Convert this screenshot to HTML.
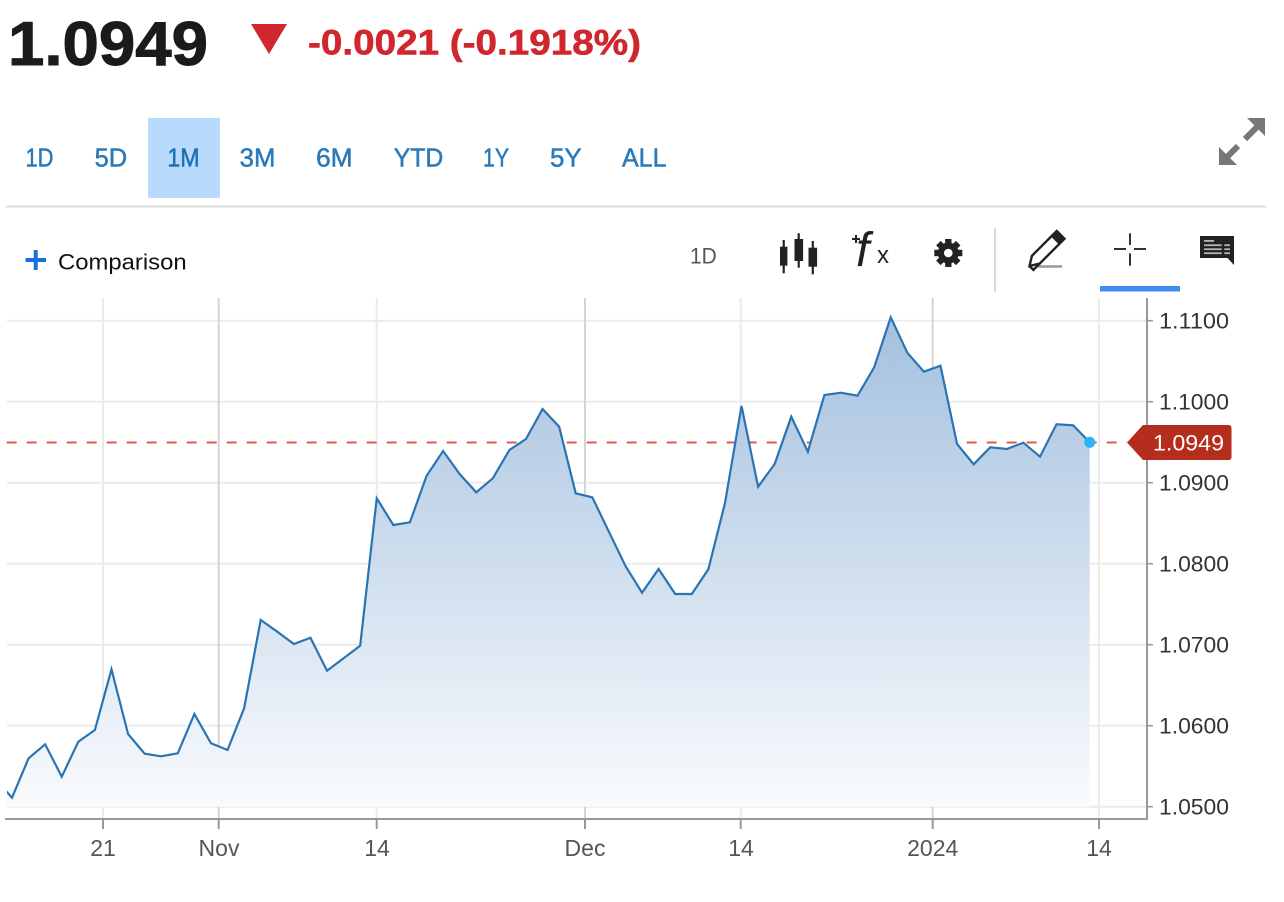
<!DOCTYPE html>
<html><head><meta charset="utf-8"><style>
html,body{margin:0;padding:0;background:#fff;}
svg{display:block;}
text{font-family:"Liberation Sans",Arial,sans-serif;}
</style></head><body>
<svg width="1284" height="902" viewBox="0 0 1284 902" xmlns="http://www.w3.org/2000/svg">
<defs>
<linearGradient id="ag" gradientUnits="userSpaceOnUse" x1="0" y1="317" x2="0" y2="807">
<stop offset="0" stop-color="#a4c0de"/>
<stop offset="1" stop-color="#f9fbfd"/>
</linearGradient>
<clipPath id="plot"><rect x="7" y="298" width="1140" height="521"/></clipPath>
<clipPath id="areaclip"><path id="areaP" d="M7,792.1 L12,797.7 L28.58,758.3 L45.16,744.3 L61.74,776.7 L78.32,741.7 L94.9,730 L111.48,669.3 L128.06,734 L144.64,753.7 L161.22,756.3 L177.8,753.3 L194.38,714 L210.96,743.3 L227.54,750 L244.12,708.3 L260.7,620 L277.28,631.7 L293.86,644 L310.44,637.7 L327.02,670.7 L343.6,658.3 L360.18,645.7 L376.76,498.3 L393.34,525 L409.92,522.3 L426.5,476 L443.08,451 L459.66,474 L476.24,492.3 L492.82,478.3 L509.4,450 L525.98,439 L542.56,409 L559.14,426.7 L575.72,493.3 L592.3,497.3 L608.88,531.7 L625.46,566 L642.04,592.7 L658.62,569 L675.2,594 L691.78,594 L708.36,569.3 L724.94,503.3 L741.52,406 L758.1,486.7 L774.68,464 L791.26,416.7 L807.84,451.7 L824.42,395 L841,392.7 L857.58,395.7 L874.16,367.3 L890.74,317.3 L907.32,352.7 L923.9,371.7 L940.48,365.7 L957.06,444 L973.64,464.3 L990.22,447.3 L1006.8,449 L1023.38,442.7 L1039.96,456.7 L1056.54,424.3 L1073.12,425.3 L1089.7,442.3 L1089.7,806.7 L7,806.7 Z"/></clipPath>
</defs>

<!-- Header -->
<text x="8" y="65" font-size="62" font-weight="bold" fill="#1b1b1b" stroke="#1b1b1b" stroke-width="1" textLength="200" lengthAdjust="spacingAndGlyphs">1.0949</text>
<polygon points="251,24 287,24 269,54" fill="#d0262d"/>
<text x="308" y="54.5" font-size="35" font-weight="bold" fill="#d0262d" stroke="#d0262d" stroke-width="0.6" textLength="333" lengthAdjust="spacingAndGlyphs">-0.0021 (-0.1918%)</text>

<!-- Range buttons -->
<rect x="148" y="118" width="72" height="80" fill="#b7dafd"/>
<g font-size="25.5" fill="#2a79b9" stroke="#2a79b9" stroke-width="0.5">
<text x="25.5" y="166.5" textLength="28" lengthAdjust="spacingAndGlyphs">1D</text>
<text x="94.6" y="166.5" textLength="32.6" lengthAdjust="spacingAndGlyphs">5D</text>
<text x="167.4" y="166.5" textLength="32.2" lengthAdjust="spacingAndGlyphs" fill="#1f70b0" stroke="#1f70b0">1M</text>
<text x="239.7" y="166.5" textLength="35.7" lengthAdjust="spacingAndGlyphs">3M</text>
<text x="316" y="166.5" textLength="36.7" lengthAdjust="spacingAndGlyphs">6M</text>
<text x="393.8" y="166.5" textLength="49.5" lengthAdjust="spacingAndGlyphs">YTD</text>
<text x="483" y="166.5" textLength="26" lengthAdjust="spacingAndGlyphs">1Y</text>
<text x="550" y="166.5" textLength="31.7" lengthAdjust="spacingAndGlyphs">5Y</text>
<text x="622" y="166.5" textLength="44.5" lengthAdjust="spacingAndGlyphs">ALL</text>
</g>

<!-- Expand icon -->
<g fill="#777">
<polygon points="1265,118 1265,136 1247,118"/>
<polygon points="1219,165 1219,147 1237,165"/>
</g>
<g stroke="#777" stroke-width="6" stroke-linecap="butt">
<line x1="1225" y1="159" x2="1238" y2="146"/>
<line x1="1245" y1="139" x2="1258" y2="126"/>
</g>

<line x1="6" y1="206.5" x2="1266" y2="206.5" stroke="#dcdcdc" stroke-width="2"/>

<!-- Comparison -->
<rect x="25.5" y="258" width="20.5" height="4" fill="#1a6fd6"/>
<rect x="33.7" y="250" width="4" height="20" fill="#1a6fd6"/>
<text x="58" y="269.5" font-size="22" fill="#111" textLength="128.6" lengthAdjust="spacingAndGlyphs">Comparison</text>

<!-- Toolbar -->
<text x="690" y="263.5" font-size="22" fill="#555" textLength="26.7" lengthAdjust="spacingAndGlyphs">1D</text>
<g fill="#222" stroke="#222">
<line x1="783.7" y1="240" x2="783.7" y2="273.3" stroke-width="2.2"/>
<rect x="780" y="246.7" width="7.4" height="19" stroke="none"/>
<line x1="798.7" y1="233.3" x2="798.7" y2="267.7" stroke-width="2.2"/>
<rect x="794.5" y="239" width="8.6" height="22" stroke="none"/>
<line x1="812.8" y1="241" x2="812.8" y2="274.3" stroke-width="2.2"/>
<rect x="808.5" y="247.7" width="8.6" height="19" stroke="none"/>
</g>
<g stroke="#222" stroke-width="2">
<line x1="852" y1="239" x2="860" y2="239"/>
<line x1="856" y1="235" x2="856" y2="243"/>
</g>
<text x="856" y="266" font-family="Liberation Serif, serif" font-style="italic" font-size="48" fill="#222">f</text>
<text x="877" y="263" font-size="24" fill="#222">x</text>
<!-- gear -->
<g transform="translate(948.3,253)" fill="#222">
<circle r="10.5"/>
<rect x="-3.2" y="-14" width="6.4" height="28"/>
<rect x="-3.2" y="-14" width="6.4" height="28" transform="rotate(45)"/>
<rect x="-3.2" y="-14" width="6.4" height="28" transform="rotate(90)"/>
<rect x="-3.2" y="-14" width="6.4" height="28" transform="rotate(135)"/>
<circle r="4.3" fill="#fff"/>
</g>
<line x1="995" y1="228" x2="995" y2="292" stroke="#d8d8d8" stroke-width="2"/>
<!-- pencil -->
<line x1="1038" y1="266.5" x2="1062" y2="266.5" stroke="#999" stroke-width="2.5"/>
<g transform="translate(1029.5,266) rotate(-45)">
<path d="M0,0 L9,-5.5 L44,-5.5 L44,5.5 L9,5.5 Z" fill="none" stroke="#222" stroke-width="2.4" stroke-linejoin="miter"/>
<rect x="36" y="-5.5" width="8" height="11" fill="#222"/>
<path d="M0,0 L0,5.5 L9,5.5" fill="none" stroke="#222" stroke-width="2.4"/>
</g>
<!-- crosshair -->
<g stroke="#333" stroke-width="2">
<line x1="1114" y1="249" x2="1126" y2="249"/>
<line x1="1134" y1="249" x2="1146" y2="249"/>
<line x1="1130" y1="233.3" x2="1130" y2="245"/>
<line x1="1130" y1="253.3" x2="1130" y2="265.7"/>
</g>
<rect x="1100" y="286" width="80" height="5.5" fill="#3d8ef0"/>
<!-- comments -->
<rect x="1200" y="236" width="34" height="22" fill="#222"/>
<polygon points="1227,257.5 1234,257.5 1234,265" fill="#222"/>
<g fill="#b5b5b5">
<rect x="1204" y="240" width="10" height="1.8"/>
<rect x="1204" y="244.3" width="17.7" height="1.8"/>
<rect x="1224.3" y="244.3" width="5.7" height="1.8"/>
<rect x="1204" y="248.3" width="17.7" height="1.8"/>
<rect x="1224.3" y="248.3" width="5.7" height="1.8"/>
<rect x="1204" y="252.3" width="17.7" height="1.8"/>
<rect x="1224.3" y="252.3" width="5.7" height="1.8"/>
</g>

<!-- Chart grid -->
<g stroke-width="2">
<line x1="7" y1="320.7" x2="1147" y2="320.7" stroke="#ebebeb"/>
<line x1="7" y1="401.7" x2="1147" y2="401.7" stroke="#ebebeb"/>
<line x1="7" y1="482.7" x2="1147" y2="482.7" stroke="#ebebeb"/>
<line x1="7" y1="563.7" x2="1147" y2="563.7" stroke="#ebebeb"/>
<line x1="7" y1="644.7" x2="1147" y2="644.7" stroke="#ebebeb"/>
<line x1="7" y1="725.7" x2="1147" y2="725.7" stroke="#ebebeb"/>
<line x1="7" y1="806.7" x2="1147" y2="806.7" stroke="#ebebeb"/>
<line x1="103" y1="298" x2="103" y2="819" stroke="#ebebeb"/>
<line x1="218.7" y1="298" x2="218.7" y2="819" stroke="#d4d4d4"/>
<line x1="376.7" y1="298" x2="376.7" y2="819" stroke="#ebebeb"/>
<line x1="585" y1="298" x2="585" y2="819" stroke="#d4d4d4"/>
<line x1="740.7" y1="298" x2="740.7" y2="819" stroke="#ebebeb"/>
<line x1="932.7" y1="298" x2="932.7" y2="819" stroke="#d4d4d4"/>
<line x1="1099" y1="298" x2="1099" y2="819" stroke="#ebebeb"/>
</g>

<!-- red dashed last-price line -->
<line x1="6.7" y1="442.5" x2="1127" y2="442.5" stroke="#dd5a4c" stroke-width="2" stroke-dasharray="10 10"/>

<!-- area -->
<path d="M7,792.1 L12,797.7 L28.58,758.3 L45.16,744.3 L61.74,776.7 L78.32,741.7 L94.9,730 L111.48,669.3 L128.06,734 L144.64,753.7 L161.22,756.3 L177.8,753.3 L194.38,714 L210.96,743.3 L227.54,750 L244.12,708.3 L260.7,620 L277.28,631.7 L293.86,644 L310.44,637.7 L327.02,670.7 L343.6,658.3 L360.18,645.7 L376.76,498.3 L393.34,525 L409.92,522.3 L426.5,476 L443.08,451 L459.66,474 L476.24,492.3 L492.82,478.3 L509.4,450 L525.98,439 L542.56,409 L559.14,426.7 L575.72,493.3 L592.3,497.3 L608.88,531.7 L625.46,566 L642.04,592.7 L658.62,569 L675.2,594 L691.78,594 L708.36,569.3 L724.94,503.3 L741.52,406 L758.1,486.7 L774.68,464 L791.26,416.7 L807.84,451.7 L824.42,395 L841,392.7 L857.58,395.7 L874.16,367.3 L890.74,317.3 L907.32,352.7 L923.9,371.7 L940.48,365.7 L957.06,444 L973.64,464.3 L990.22,447.3 L1006.8,449 L1023.38,442.7 L1039.96,456.7 L1056.54,424.3 L1073.12,425.3 L1089.7,442.3 L1089.7,806.7 L7,806.7 Z" fill="url(#ag)"/>
<g clip-path="url(#areaclip)">
<line x1="6.7" y1="442.5" x2="1127" y2="442.5" stroke="#c3cbd4" stroke-width="2" stroke-dasharray="10 10"/>
</g>

<!-- series line -->
<polyline clip-path="url(#plot)" fill="none" stroke="#2a74b4" stroke-width="2.2" stroke-linejoin="miter" points="-4.58,779 12,797.7 28.58,758.3 45.16,744.3 61.74,776.7 78.32,741.7 94.9,730 111.48,669.3 128.06,734 144.64,753.7 161.22,756.3 177.8,753.3 194.38,714 210.96,743.3 227.54,750 244.12,708.3 260.7,620 277.28,631.7 293.86,644 310.44,637.7 327.02,670.7 343.6,658.3 360.18,645.7 376.76,498.3 393.34,525 409.92,522.3 426.5,476 443.08,451 459.66,474 476.24,492.3 492.82,478.3 509.4,450 525.98,439 542.56,409 559.14,426.7 575.72,493.3 592.3,497.3 608.88,531.7 625.46,566 642.04,592.7 658.62,569 675.2,594 691.78,594 708.36,569.3 724.94,503.3 741.52,406 758.1,486.7 774.68,464 791.26,416.7 807.84,451.7 824.42,395 841,392.7 857.58,395.7 874.16,367.3 890.74,317.3 907.32,352.7 923.9,371.7 940.48,365.7 957.06,444 973.64,464.3 990.22,447.3 1006.8,449 1023.38,442.7 1039.96,456.7 1056.54,424.3 1073.12,425.3 1089.7,442.3"/>
<circle cx="1089.7" cy="442.3" r="5.5" fill="#2cb5f5"/>

<!-- axes -->
<g stroke="#999" stroke-width="2">
<line x1="5" y1="819" x2="1148" y2="819"/>
<line x1="1147" y1="298" x2="1147" y2="820"/>
<line x1="103" y1="819" x2="103" y2="829"/>
<line x1="218.7" y1="819" x2="218.7" y2="829"/>
<line x1="376.7" y1="819" x2="376.7" y2="829"/>
<line x1="585" y1="819" x2="585" y2="829"/>
<line x1="740.7" y1="819" x2="740.7" y2="829"/>
<line x1="932.7" y1="819" x2="932.7" y2="829"/>
<line x1="1099" y1="819" x2="1099" y2="829"/>
</g>
<g stroke="#999" stroke-width="1.6">
<line x1="1147" y1="320.7" x2="1153" y2="320.7"/>
<line x1="1147" y1="401.7" x2="1153" y2="401.7"/>
<line x1="1147" y1="482.7" x2="1153" y2="482.7"/>
<line x1="1147" y1="563.7" x2="1153" y2="563.7"/>
<line x1="1147" y1="644.7" x2="1153" y2="644.7"/>
<line x1="1147" y1="725.7" x2="1153" y2="725.7"/>
<line x1="1147" y1="806.7" x2="1153" y2="806.7"/>
</g>

<g font-size="22" fill="#333">
<text x="1159" y="328.7" textLength="70" lengthAdjust="spacingAndGlyphs">1.1100</text>
<text x="1159" y="409.7" textLength="70" lengthAdjust="spacingAndGlyphs">1.1000</text>
<text x="1159" y="490.7" textLength="70" lengthAdjust="spacingAndGlyphs">1.0900</text>
<text x="1159" y="571.7" textLength="70" lengthAdjust="spacingAndGlyphs">1.0800</text>
<text x="1159" y="652.7" textLength="70" lengthAdjust="spacingAndGlyphs">1.0700</text>
<text x="1159" y="733.7" textLength="70" lengthAdjust="spacingAndGlyphs">1.0600</text>
<text x="1159" y="814.7" textLength="70" lengthAdjust="spacingAndGlyphs">1.0500</text>
</g>

<g font-size="23" fill="#555" text-anchor="middle">
<text x="103" y="856">21</text>
<text x="219" y="856">Nov</text>
<text x="377" y="856">14</text>
<text x="585" y="856">Dec</text>
<text x="741" y="856">14</text>
<text x="932.7" y="856">2024</text>
<text x="1099" y="856">14</text>
</g>

<!-- price tag -->
<path d="M1127,442.5 L1143,425 L1228.5,425 Q1231.5,425 1231.5,428 L1231.5,457 Q1231.5,460 1228.5,460 L1143,460 Z" fill="#b52d1c"/>
<text x="1153" y="450.5" font-size="22" fill="#fff" textLength="71" lengthAdjust="spacingAndGlyphs">1.0949</text>
</svg>
</body></html>
